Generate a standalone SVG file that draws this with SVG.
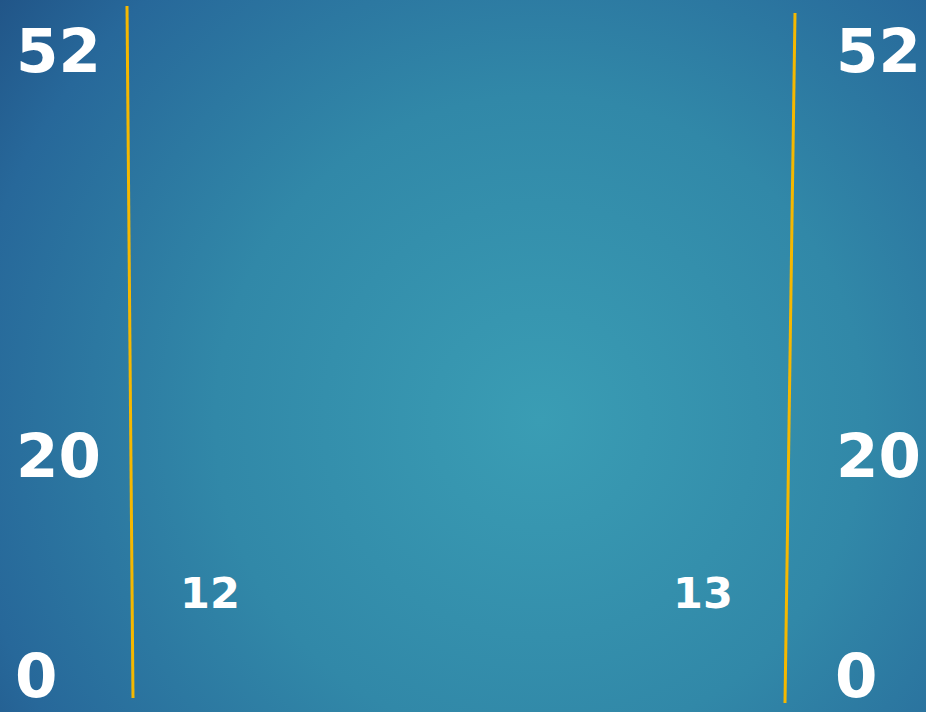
<svg xmlns="http://www.w3.org/2000/svg" width="926" height="712" viewBox="0 0 926 712">
  <defs>
    <radialGradient id="bg" cx="540" cy="420" r="720" gradientUnits="userSpaceOnUse">
      <stop offset="0" stop-color="#3a9db4"/>
      <stop offset="0.45" stop-color="#3188a8"/>
      <stop offset="0.8" stop-color="#27689a"/>
      <stop offset="1" stop-color="#1f4f82"/>
    </radialGradient>
    <style>
      .big { font-family: "DejaVu Sans", "Verdana", sans-serif; font-weight: bold; font-size: 61px; fill: #ffffff; }
      .small { font-family: "DejaVu Sans", "Verdana", sans-serif; font-weight: bold; font-size: 43px; fill: #ffffff; }
      .axis { stroke: #f5b800; stroke-width: 3; fill: none; }
    </style>
  </defs>
  <rect x="0" y="0" width="926" height="712" fill="url(#bg)"/>
  <g id="connectors">
    <line class="axis" x1="127" y1="6" x2="133" y2="698"/>
    <line class="axis" x1="795" y1="13" x2="785" y2="703"/>
  </g>
  <g id="left-labels">
    <text class="big" x="16" y="72">52</text>
    <text class="big" x="16" y="477">20</text>
    <text class="big" x="15" y="697">0</text>
  </g>
  <g id="right-labels">
    <text class="big" x="836" y="72">52</text>
    <text class="big" x="836" y="477">20</text>
    <text class="big" x="835" y="697">0</text>
  </g>
  <g id="segment-labels">
    <text class="small" x="180" y="608">12</text>
    <text class="small" x="673" y="608">13</text>
  </g>
</svg>
